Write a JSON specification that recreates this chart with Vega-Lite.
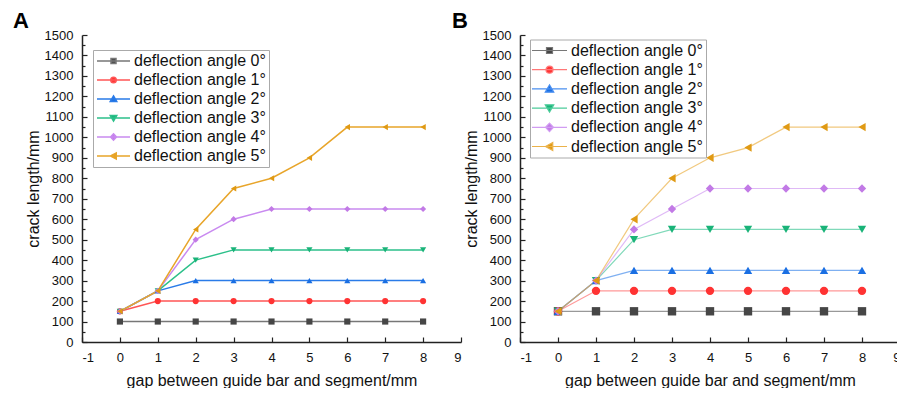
{
  "$schema": "https://vega.github.io/schema/vega-lite/v6.json",
  "padding": {"left": 13, "top": 10, "right": -4, "bottom": 0},
  "background": "white",
  "config": {
    "font": "Liberation Sans",
    "view": {"stroke": null},
    "axis": {"domainColor": "#222", "domainWidth": 1.5, "tickColor": "#222", "tickWidth": 1.2, "labelFontSize": 13, "labelColor": "#111", "titleFontSize": 16, "titleFontWeight": "normal", "titleColor": "#111", "grid": false, "labelFont": "Liberation Sans", "titleFont": "Liberation Sans"},
    "legend": {"labelFont": "Liberation Sans"},
    "title": {"font": "Liberation Sans"}
  },
  "bounds": "flush",
  "spacing": 59,
  "resolve": {"scale": {"color": "independent", "shape": "independent", "stroke": "independent"}, "legend": {"color": "independent"}},
  "hconcat": [
    {
      "width": 379, "height": 307,
      "title": {"text": "A", "anchor": "start", "frame": "group", "dx": -69, "fontSize": 22, "fontWeight": "bold", "color": "#000", "offset": -4},
      "data": {"values": [
        {"s":"deflection angle 0°","x":0,"y":100},{"s":"deflection angle 0°","x":1,"y":100},{"s":"deflection angle 0°","x":2,"y":100},{"s":"deflection angle 0°","x":3,"y":100},{"s":"deflection angle 0°","x":4,"y":100},{"s":"deflection angle 0°","x":5,"y":100},{"s":"deflection angle 0°","x":6,"y":100},{"s":"deflection angle 0°","x":7,"y":100},{"s":"deflection angle 0°","x":8,"y":100},
        {"s":"deflection angle 1°","x":0,"y":150},{"s":"deflection angle 1°","x":1,"y":200},{"s":"deflection angle 1°","x":2,"y":200},{"s":"deflection angle 1°","x":3,"y":200},{"s":"deflection angle 1°","x":4,"y":200},{"s":"deflection angle 1°","x":5,"y":200},{"s":"deflection angle 1°","x":6,"y":200},{"s":"deflection angle 1°","x":7,"y":200},{"s":"deflection angle 1°","x":8,"y":200},
        {"s":"deflection angle 2°","x":0,"y":150},{"s":"deflection angle 2°","x":1,"y":250},{"s":"deflection angle 2°","x":2,"y":300},{"s":"deflection angle 2°","x":3,"y":300},{"s":"deflection angle 2°","x":4,"y":300},{"s":"deflection angle 2°","x":5,"y":300},{"s":"deflection angle 2°","x":6,"y":300},{"s":"deflection angle 2°","x":7,"y":300},{"s":"deflection angle 2°","x":8,"y":300},
        {"s":"deflection angle 3°","x":0,"y":150},{"s":"deflection angle 3°","x":1,"y":250},{"s":"deflection angle 3°","x":2,"y":400},{"s":"deflection angle 3°","x":3,"y":450},{"s":"deflection angle 3°","x":4,"y":450},{"s":"deflection angle 3°","x":5,"y":450},{"s":"deflection angle 3°","x":6,"y":450},{"s":"deflection angle 3°","x":7,"y":450},{"s":"deflection angle 3°","x":8,"y":450},
        {"s":"deflection angle 4°","x":0,"y":150},{"s":"deflection angle 4°","x":1,"y":250},{"s":"deflection angle 4°","x":2,"y":500},{"s":"deflection angle 4°","x":3,"y":600},{"s":"deflection angle 4°","x":4,"y":650},{"s":"deflection angle 4°","x":5,"y":650},{"s":"deflection angle 4°","x":6,"y":650},{"s":"deflection angle 4°","x":7,"y":650},{"s":"deflection angle 4°","x":8,"y":650},
        {"s":"deflection angle 5°","x":0,"y":150},{"s":"deflection angle 5°","x":1,"y":250},{"s":"deflection angle 5°","x":2,"y":550},{"s":"deflection angle 5°","x":3,"y":750},{"s":"deflection angle 5°","x":4,"y":800},{"s":"deflection angle 5°","x":5,"y":900},{"s":"deflection angle 5°","x":6,"y":1050},{"s":"deflection angle 5°","x":7,"y":1050},{"s":"deflection angle 5°","x":8,"y":1050}
      ]},
      "encoding": {
        "x": {"field": "x", "type": "quantitative", "scale": {"domain": [-1, 9], "nice": false}, "title": "gap between guide bar and segment/mm", "axis": {"values": [-1,0,1,2,3,4,5,6,7,8,9], "labelExpr": "'' + datum.value", "tickSize": -5, "labelPadding": 14, "titlePadding": 8}},
        "y": {"field": "y", "type": "quantitative", "scale": {"domain": [0, 1500], "nice": false}, "title": "crack length/mm", "axis": {"values": [0,50,100,150,200,250,300,350,400,450,500,550,600,650,700,750,800,850,900,950,1000,1050,1100,1150,1200,1250,1300,1350,1400,1450,1500], "labelExpr": "datum.value % 100 === 0 ? '' + datum.value : ''", "tickSize": {"condition": {"test": "datum.value % 100 !== 0", "value": -3}, "value": -5}, "labelPadding": 14, "titlePadding": 3}}
      },
      "layer": [
        {"mark": {"type": "line", "strokeWidth": 1.5},
         "encoding": {"stroke": {"field": "s", "type": "nominal", "legend": null, "scale": {"range": ["#777777","#ff5555","#2a7be8","#2cc08a","#c98af0","#e8a52a"]}}}},
        {"mark": {"type": "point", "filled": true, "size": 38, "opacity": 1},
         "encoding": {
           "color": {"field": "s", "type": "nominal", "scale": {"domain": ["deflection angle 0°","deflection angle 1°","deflection angle 2°","deflection angle 3°","deflection angle 4°","deflection angle 5°"], "range": ["#464646","#ff3333","#1a6fe3","#19b378","#c27ae6","#e09a14"]},
             "legend": {"orient": "none", "legendX": 11, "legendY": 15, "title": null, "labelFontSize": 16, "labelColor": "#111", "labelOffset": 22, "padding": 3, "rowPadding": 3, "strokeColor": "#aaaaaa", "fillColor": "white", "symbolSize": 100, "symbolStrokeWidth": 1.5,
               "symbolType": {"expr": "['M-1.4,0H5.2M1.4,-0.5H2.4V0.5H1.4Z','M-1.4,0H5.2M1.35,0A0.55,0.55,0,1,0,2.45,0A0.55,0.55,0,1,0,1.35,0Z','M-1.4,0H5.2M1.9,-0.6L2.55,0.5L1.25,0.5Z','M-1.4,0H5.2M1.9,0.6L2.55,-0.5L1.25,-0.5Z','M-1.4,0H5.2M1.9,-0.65L2.5,0L1.9,0.65L1.3,0Z','M-1.4,0H5.2M1.3,0L2.45,-0.6L2.45,0.6Z'][toNumber(substring(datum.value,17,18))]"},
               "symbolStrokeColor": {"expr": "['#777777','#ff5555','#2a7be8','#2cc08a','#c98af0','#e8a52a'][toNumber(substring(datum.value,17,18))]"}}},
           "shape": {"field": "s", "type": "nominal", "legend": null, "scale": {"range": ["square","circle","triangle-up","triangle-down","diamond","triangle-left"]}}
         }}
      ]
    },
    {
      "width": 380, "height": 307,
      "title": {"text": "B", "anchor": "start", "frame": "group", "dx": -68, "fontSize": 22, "fontWeight": "bold", "color": "#000", "offset": -4},
      "data": {"values": [
        {"s":"deflection angle 0°","x":0,"y":150},{"s":"deflection angle 0°","x":1,"y":150},{"s":"deflection angle 0°","x":2,"y":150},{"s":"deflection angle 0°","x":3,"y":150},{"s":"deflection angle 0°","x":4,"y":150},{"s":"deflection angle 0°","x":5,"y":150},{"s":"deflection angle 0°","x":6,"y":150},{"s":"deflection angle 0°","x":7,"y":150},{"s":"deflection angle 0°","x":8,"y":150},
        {"s":"deflection angle 1°","x":0,"y":150},{"s":"deflection angle 1°","x":1,"y":250},{"s":"deflection angle 1°","x":2,"y":250},{"s":"deflection angle 1°","x":3,"y":250},{"s":"deflection angle 1°","x":4,"y":250},{"s":"deflection angle 1°","x":5,"y":250},{"s":"deflection angle 1°","x":6,"y":250},{"s":"deflection angle 1°","x":7,"y":250},{"s":"deflection angle 1°","x":8,"y":250},
        {"s":"deflection angle 2°","x":0,"y":150},{"s":"deflection angle 2°","x":1,"y":300},{"s":"deflection angle 2°","x":2,"y":350},{"s":"deflection angle 2°","x":3,"y":350},{"s":"deflection angle 2°","x":4,"y":350},{"s":"deflection angle 2°","x":5,"y":350},{"s":"deflection angle 2°","x":6,"y":350},{"s":"deflection angle 2°","x":7,"y":350},{"s":"deflection angle 2°","x":8,"y":350},
        {"s":"deflection angle 3°","x":0,"y":150},{"s":"deflection angle 3°","x":1,"y":300},{"s":"deflection angle 3°","x":2,"y":500},{"s":"deflection angle 3°","x":3,"y":550},{"s":"deflection angle 3°","x":4,"y":550},{"s":"deflection angle 3°","x":5,"y":550},{"s":"deflection angle 3°","x":6,"y":550},{"s":"deflection angle 3°","x":7,"y":550},{"s":"deflection angle 3°","x":8,"y":550},
        {"s":"deflection angle 4°","x":0,"y":150},{"s":"deflection angle 4°","x":1,"y":300},{"s":"deflection angle 4°","x":2,"y":550},{"s":"deflection angle 4°","x":3,"y":650},{"s":"deflection angle 4°","x":4,"y":750},{"s":"deflection angle 4°","x":5,"y":750},{"s":"deflection angle 4°","x":6,"y":750},{"s":"deflection angle 4°","x":7,"y":750},{"s":"deflection angle 4°","x":8,"y":750},
        {"s":"deflection angle 5°","x":0,"y":150},{"s":"deflection angle 5°","x":1,"y":300},{"s":"deflection angle 5°","x":2,"y":600},{"s":"deflection angle 5°","x":3,"y":800},{"s":"deflection angle 5°","x":4,"y":900},{"s":"deflection angle 5°","x":5,"y":950},{"s":"deflection angle 5°","x":6,"y":1050},{"s":"deflection angle 5°","x":7,"y":1050},{"s":"deflection angle 5°","x":8,"y":1050}
      ]},
      "encoding": {
        "x": {"field": "x", "type": "quantitative", "scale": {"domain": [-1, 9], "nice": false}, "title": "gap between guide bar and segment/mm", "axis": {"values": [-1,0,1,2,3,4,5,6,7,8,9], "labelExpr": "'' + datum.value", "tickSize": -5, "labelPadding": 14, "titlePadding": 8}},
        "y": {"field": "y", "type": "quantitative", "scale": {"domain": [0, 1500], "nice": false}, "title": "crack length/mm", "axis": {"values": [0,50,100,150,200,250,300,350,400,450,500,550,600,650,700,750,800,850,900,950,1000,1050,1100,1150,1200,1250,1300,1350,1400,1450,1500], "labelExpr": "datum.value % 100 === 0 ? '' + datum.value : ''", "tickSize": {"condition": {"test": "datum.value % 100 !== 0", "value": -3}, "value": -5}, "labelPadding": 14, "titlePadding": 3}}
      },
      "layer": [
        {"mark": {"type": "line", "strokeWidth": 1.2, "opacity": 0.6},
         "encoding": {"stroke": {"field": "s", "type": "nominal", "legend": null, "scale": {"range": ["#555555","#ff5555","#2a7be8","#2cc08a","#c98af0","#e8a52a"]}}}},
        {"mark": {"type": "point", "filled": true, "size": 70, "opacity": 1},
         "encoding": {
           "color": {"field": "s", "type": "nominal", "scale": {"domain": ["deflection angle 0°","deflection angle 1°","deflection angle 2°","deflection angle 3°","deflection angle 4°","deflection angle 5°"], "range": ["#464646","#ff3333","#1a6fe3","#19b378","#c27ae6","#e09a14"]},
             "legend": {"orient": "none", "legendX": 10, "legendY": 4.5, "title": null, "labelFontSize": 16, "labelColor": "#111", "labelOffset": 22, "padding": 3, "rowPadding": 3.2, "strokeColor": "#aaaaaa", "fillColor": "white", "symbolSize": 100, "symbolStrokeWidth": 1.2,
               "symbolType": {"expr": "['M-1.8,0H5.2M1.1,-0.6H2.3V0.6H1.1Z','M-1.8,0H5.2M1.0,0A0.7,0.7,0,1,0,2.4,0A0.7,0.7,0,1,0,1.0,0Z','M-1.8,0H5.2M1.7,-0.8L2.55,0.65L0.85,0.65Z','M-1.8,0H5.2M1.7,0.8L2.55,-0.65L0.85,-0.65Z','M-1.8,0H5.2M1.7,-0.85L2.5,0L1.7,0.85L0.9,0Z','M-1.8,0H5.2M0.9,0L2.35,-0.8L2.35,0.8Z'][toNumber(substring(datum.value,17,18))]"},
               "symbolStrokeColor": {"expr": "['#777777','#ff7777','#4a8ff0','#4ccc9a','#d19cf2','#ebb24a'][toNumber(substring(datum.value,17,18))]"}}},
           "shape": {"field": "s", "type": "nominal", "legend": null, "scale": {"range": ["square","circle","triangle-up","triangle-down","diamond","triangle-left"]}}
         }}
      ]
    }
  ]
}
